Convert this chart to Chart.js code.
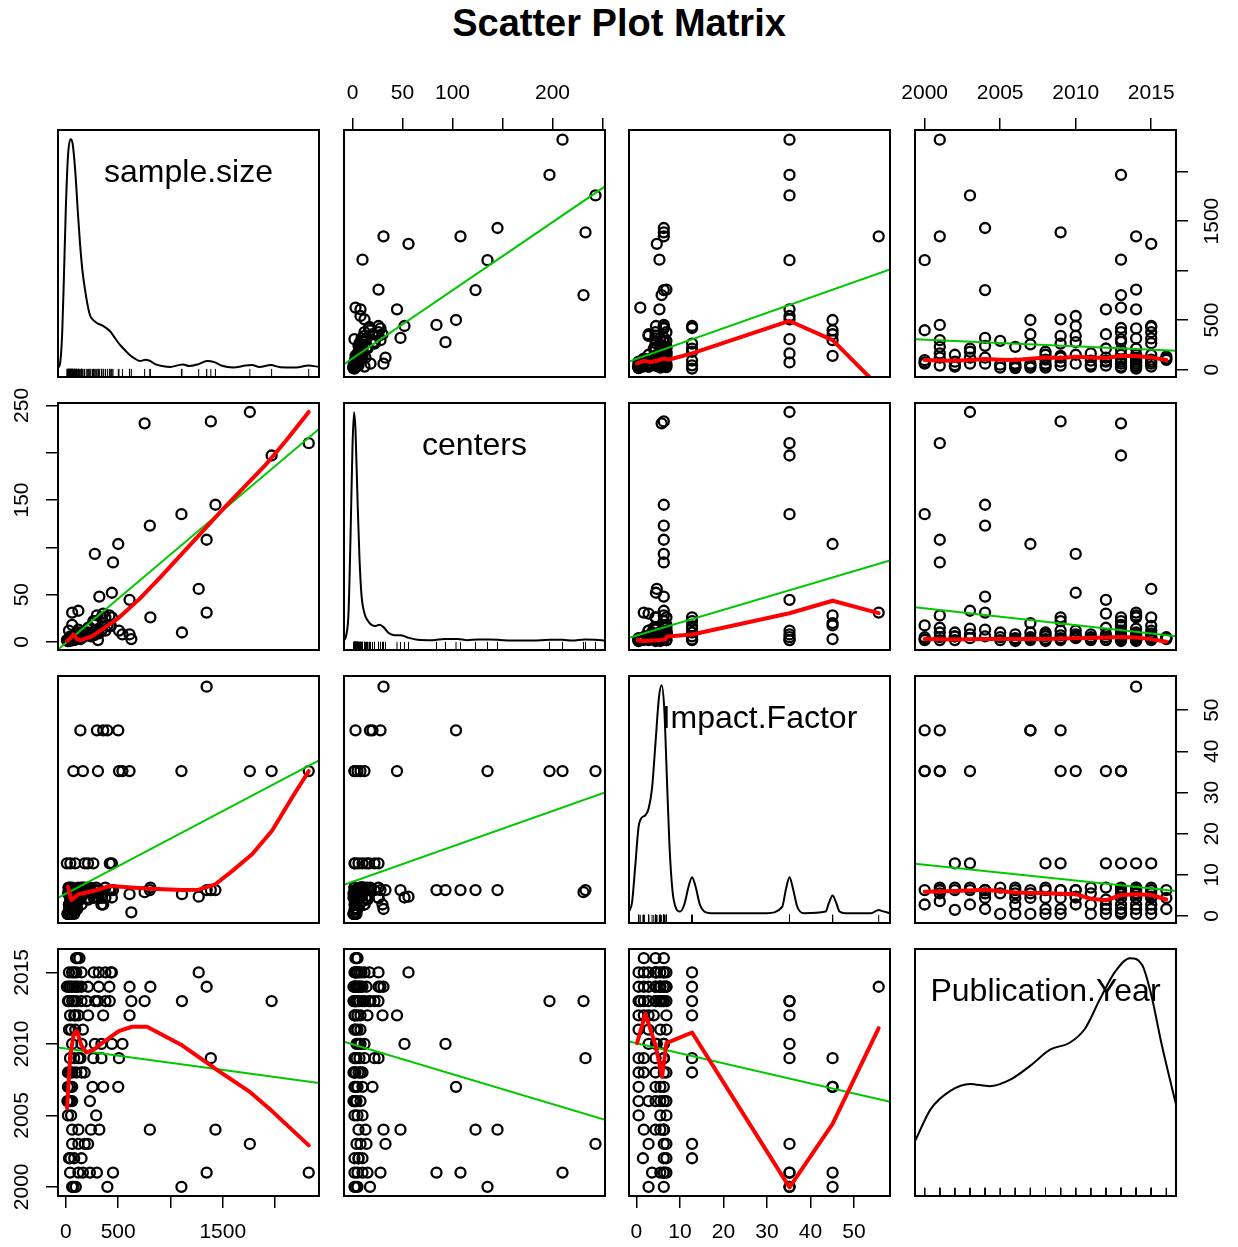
<!DOCTYPE html>
<html>
<head>
<meta charset="utf-8">
<title>Scatter Plot Matrix</title>
<script src="https://cdn.jsdelivr.net/npm/chart.js@4.4.1/dist/chart.umd.min.js"></script>
<style>
  html, body { margin: 0; padding: 0; background: #fff; }
  body { position: relative; width: 1238px; height: 1247px; overflow: hidden;
         font-family: "Liberation Sans", Arial, Helvetica, sans-serif; }
  #title { position: absolute; left: 0; top: 0; width: 1238px; text-align: center;
           font-size: 38px; font-weight: bold; line-height: 46px; }
  canvas { position: absolute; }
  .varname { position: absolute; width: 300px; text-align: center; font-size: 32px;
             line-height: 36px; z-index: 5; white-space: nowrap; }
</style>
</head>
<body>
<div id="title">Scatter Plot Matrix</div>
<script>
// variables of the matrix, one value per study (grouped by publication year)
const VAR_NAMES = ['sample.size', 'centers', 'Impact.Factor', 'Publication.Year'];

const sampleSize = [
    1105, 397, 72, 95, 60,                                            // 2000
    2322, 1346, 451, 297, 163, 40, 120, 230,                          // 2001
    43, 30, 80, 150,                                                  // 2002
    1759, 212, 120, 60, 180,                                          // 2003
    1430, 803, 320, 60, 120, 240,                                     // 2004
    20, 50, 290,                                                      // 2005
    15, 30, 45, 60, 230, 25,                                          // 2006
    501, 357, 20, 60, 255, 40,                                        // 2007
    180, 20, 60, 100, 150, 40,                                        // 2008
    1386, 508, 139, 263, 340, 40, 80, 120,                            // 2009
    541, 440, 277, 340, 60, 150,                                      // 2010
    30, 90, 163, 50,                                                  // 2011
    609, 90, 357, 213, 40, 80, 120,                                   // 2012
    1967, 1110, 753, 626, 307, 420, 378, 280, 60, 30, 100, 150, 200, 20, 80, // 2013
    1346, 808, 609, 10, 416, 315, 212, 60, 100, 150, 30, 80, 40, 120, // 2014
    1270, 440, 430, 378, 315, 267, 60, 100, 30, 150, 80,              // 2015
    98, 130, 110                                                      // 2016
];

const centers = [
    135, 17.5, 2, 5, 3,
    210, 108, 84, 28, 5, 2, 10, 15,
    6, 2, 6, 10,
    243, 14, 33, 4, 8,
    145, 123, 48, 31, 13, 6,
    2, 5, 10,
    1, 2, 3, 4, 8, 2,
    103.5, 20, 2, 5, 10, 3,
    10, 1, 3, 6, 8, 2,
    233, 12, 3, 22, 26, 2, 4, 7,
    8, 52, 93, 12, 4, 6,
    2, 5, 8, 3,
    44.5, 2.5, 30, 15, 2, 5, 8,
    197, 10, 231, 3, 2, 16.5, 26, 22, 18, 12, 3, 5, 7, 1, 4,
    31, 26, 8, 2, 28, 14, 10, 3, 5, 7, 2, 4, 1, 6,
    56, 26, 17, 12, 9, 7, 3, 4, 2, 5, 3,
    3, 5, 4
];

const impactFactor = [
    35.2, 45.1, 35.2, 6.3, 2.8,
    35.2, 6.3, 6.3, 45.1, 35.2, 5.5, 3.6, 6.9,
    12.8, 1.5, 6.3, 6.9,
    35.2, 12.8, 6.3, 2.8, 6.9,
    6.3, 6.3, 6.3, 1.7, 4.4, 5.5,
    0.5, 5.5, 6.9,
    0.5, 2.8, 4.4, 5.5, 6.3, 6.9,
    45.1, 45.1, 0.5, 4.4, 5.5, 6.3,
    12.8, 0.5, 1.7, 4.4, 6.3, 6.9,
    6.3, 35.2, 45.1, 12.8, 4.4, 0.5, 1.7, 6.3,
    35.2, 4.5, 6.3, 2.8, 6.3, 4.7,
    0.5, 5.5, 6.9, 2.8,
    35.2, 12.8, 2.8, 4.0, 0.5, 1.7, 6.9,
    35.2, 5.3, 5.8, 0.9, 35.2, 12.8, 4.4, 6.3, 6.9, 2.8, 1.7, 6.3, 4.4, 5.5, 0.5,
    55.7, 6.9, 5.3, 12.8, 6.3, 4.4, 6.9, 0.5, 1.7, 2.8, 5.5, 6.3, 4.4, 5.5,
    4.7, 12.8, 6.3, 6.9, 5.5, 4.4, 1.7, 2.8, 0.5, 6.3, 4.4,
    6.3, 4.4, 1.7
];

const pubYear = [
    2000, 2000, 2000, 2000, 2000,
    2001, 2001, 2001, 2001, 2001, 2001, 2001, 2001,
    2002, 2002, 2002, 2002,
    2003, 2003, 2003, 2003, 2003,
    2004, 2004, 2004, 2004, 2004, 2004,
    2005, 2005, 2005,
    2006, 2006, 2006, 2006, 2006, 2006,
    2007, 2007, 2007, 2007, 2007, 2007,
    2008, 2008, 2008, 2008, 2008, 2008,
    2009, 2009, 2009, 2009, 2009, 2009, 2009, 2009,
    2010, 2010, 2010, 2010, 2010, 2010,
    2011, 2011, 2011, 2011,
    2012, 2012, 2012, 2012, 2012, 2012, 2012,
    2013, 2013, 2013, 2013, 2013, 2013, 2013, 2013, 2013, 2013, 2013, 2013, 2013, 2013, 2013,
    2014, 2014, 2014, 2014, 2014, 2014, 2014, 2014, 2014, 2014, 2014, 2014, 2014, 2014,
    2015, 2015, 2015, 2015, 2015, 2015, 2015, 2015, 2015, 2015, 2015,
    2016, 2016, 2016
];

// kernel density curves on the diagonal, [value, density scaled to peak 1]
const densitySampleSize = [
    [-75, 0], [-55, 0.02], [-35, 0.15], [-17, 0.42], [0, 0.7], [21, 0.93], [45, 1.0], [65, 0.98],
    [90, 0.86], [115, 0.68], [136, 0.54], [160, 0.42], [184, 0.34], [210, 0.27], [231, 0.23],
    [260, 0.21], [300, 0.195], [350, 0.185], [423, 0.16], [470, 0.13], [518, 0.1], [570, 0.075],
    [614, 0.055], [660, 0.04], [710, 0.03], [760, 0.035], [805, 0.03], [860, 0.015], [920, 0.008],
    [1000, 0.004], [1080, 0.012], [1120, 0.015], [1180, 0.008], [1260, 0.015], [1350, 0.03],
    [1420, 0.025], [1500, 0.008], [1600, 0.002], [1720, 0.01], [1780, 0.012], [1850, 0.004],
    [1960, 0.012], [2050, 0.003], [2200, 0.002], [2320, 0.01], [2420, 0.004]
];
const densityCenters = [
    [-8.5, 0], [-6, 0.03], [-4, 0.12], [-2, 0.45], [0, 0.85], [1.5, 1.0], [3, 0.92], [5, 0.62],
    [7, 0.36], [9, 0.2], [12, 0.12], [15, 0.09], [19, 0.07], [23, 0.065], [27, 0.07], [31, 0.06],
    [36, 0.035], [42, 0.025], [48, 0.025], [55, 0.015], [65, 0.005], [80, 0.003], [92, 0.008],
    [105, 0.008], [115, 0.003], [125, 0.006], [137, 0.006], [145, 0.005], [160, 0.001], [180, 0.001],
    [197, 0.005], [210, 0.005], [220, 0.001], [232, 0.006], [243, 0.005], [252.5, 0.001]
];
const densityImpactFactor = [
    [-1.7, 0.01], [-1, 0.05], [-0.3, 0.2], [0.5, 0.38], [1.2, 0.42], [2, 0.43], [2.8, 0.46],
    [3.6, 0.55], [4.4, 0.75], [5.2, 0.95], [5.8, 1.0], [6.4, 0.9], [7, 0.6], [7.6, 0.3], [8.3, 0.1],
    [9, 0.03], [10, 0.01], [11, 0.04], [12, 0.12], [12.8, 0.16], [13.6, 0.12], [14.6, 0.04],
    [15.6, 0.01], [17, 0.003], [30, 0.003], [33.5, 0.03], [34.4, 0.11], [35.2, 0.16], [36, 0.11],
    [37, 0.03], [38.5, 0.003], [43.5, 0.01], [44.3, 0.05], [45.1, 0.08], [45.9, 0.05], [46.7, 0.01],
    [48, 0.003], [54, 0.003], [55, 0.012], [55.7, 0.017], [56.5, 0.012], [58.3, 0.003]
];
const densityPubYear = [
    [1999.36, 0.2], [2000.4, 0.34], [2001.7, 0.42], [2003.0, 0.45], [2004.3, 0.44], [2005.7, 0.47],
    [2007.0, 0.53], [2008.3, 0.6], [2009.6, 0.63], [2010.6, 0.69], [2011.6, 0.82], [2012.6, 0.94],
    [2013.6, 1.0], [2014.4, 0.97], [2015.0, 0.84], [2015.7, 0.62], [2016.64, 0.36]
];

// least squares lines (green), [x, y] at both panel edges
const fitSizeByCenters = [[-8.5, 55], [252.5, 1850]];
const fitSizeByIF = [[-1.7, 82], [58.3, 1011]];
const fitSizeByYear = [[1999.36, 307], [2016.64, 189]];
const fitCentersBySize = [[-75, -8], [2420, 225]];
const fitCentersByIF = [[-1.7, 4.5], [58.3, 86]];
const fitCentersByYear = [[1999.36, 36.8], [2016.64, 6]];
const fitIFBySize = [[-75, 4.4], [2420, 37.8]];
const fitIFByCenters = [[-8.5, 7.6], [252.5, 30]];
const fitIFByYear = [[1999.36, 12.7], [2016.64, 6.1]];
const fitYearBySize = [[-75, 2009.75], [2420, 2007.27]];
const fitYearByCenters = [[-8.5, 2010.15], [252.5, 2004.7]];
const fitYearByIF = [[-1.7, 2010.17], [58.3, 2005.95]];

// smoothers (red), [x, y]
const smoothSizeByIF = [[0.15, 62], [1.68, 89], [3.2, 75], [4.7, 89], [6.3, 112], [7.4, 99],
    [12.8, 163], [35.2, 491], [45.1, 297], [55.7, -169]];
const smoothSizeByYear = [[2000, 96], [2001, 92], [2002, 90], [2003, 96], [2004, 106], [2005, 100],
    [2006, 96], [2007, 110], [2008, 123], [2009, 116], [2010, 130], [2011, 123], [2012, 116],
    [2013, 140], [2014, 136], [2015, 123], [2016, 96]];
const smoothCentersBySize = [[11, 1], [43, 4], [75, 8], [107, 3], [139, 2], [250, 6], [330, 12],
    [500, 25], [700, 45], [900, 68], [1100, 92], [1300, 116], [1500, 140], [1700, 163],
    [1900, 186], [2100, 212], [2322, 243]];
const smoothCentersByIF = [[0.3, 1.7], [1.7, 1.0], [4.7, 1.7], [6.6, 2.5], [7.0, 5.8], [12.8, 7.9],
    [35.2, 30.3], [45.1, 43.5], [55.7, 30.5]];
const smoothCentersByYear = [[2000, 3.2], [2002, 2.5], [2004, 3.2], [2006, 3.2], [2008, 3.2],
    [2010, 3.9], [2012, 4.6], [2013, 5.3], [2014, 4.8], [2015, 3], [2016, 0.2]];
const smoothIFBySize = [[21, 7.05], [53, 3.9], [123, 5.3], [282, 6.2], [426, 7.3], [760, 6.7],
    [1111, 6.3], [1270, 6.4], [1430, 7.7], [1589, 10.9], [1780, 15], [1971, 20.7], [2163, 28.8],
    [2322, 35.2]];
const smoothIFByYear = [[2000, 5.9], [2002, 6.1], [2004, 6.4], [2006, 5.7], [2008, 5.5], [2010, 5.3],
    [2011, 4.2], [2012, 3.8], [2013, 5.1], [2014, 5.3], [2015, 5.1], [2016, 4.0]];
const smoothYearBySize = [[11, 2005.5], [43, 2009.2], [75, 2010.7], [107, 2010.9], [148, 2009.9],
    [196, 2009.4], [266, 2009.6], [346, 2010.05], [506, 2010.9], [633, 2011.2], [776, 2011.2],
    [1111, 2009.9], [1462, 2008.1], [1748, 2006.7], [1971, 2005.3], [2322, 2002.9]];
const smoothYearByIF = [[0.15, 2010.05], [2.07, 2012.1], [4.4, 2009.9], [5.9, 2007.7], [6.9, 2010.05],
    [12.8, 2010.8], [35.2, 1999.96], [45.1, 2004.4], [55.7, 2011.1]];

// axis ticks and which of them R printed
const AXIS_TICKS = [[0, 500, 1000, 1500, 2000], [0, 50, 100, 150, 200, 250], [0, 10, 20, 30, 40, 50], [2000, 2005, 2010, 2015]];
const X_LABELS = [[0, 500, 1500], [0, 50, 100, 200], [0, 10, 20, 30, 40, 50], [2000, 2005, 2010, 2015]];
const Y_LABELS = [[0, 500, 1500], [0, 50, 150, 250], [0, 10, 20, 30, 40, 50], [2000, 2005, 2010, 2015]];

// ---- layout -------------------------------------------------------------
const AXIS_LIMITS = [[-75, 2420], [-8.5, 252.5], [-1.7, 58.3], [1999.36, 2016.64]];
const COL_LEFT = [58, 344, 629, 915];
const ROW_TOP = [130, 403, 676, 949];
const PANEL_W = 261;
const PANEL_H = 247;
const M = 64;           // room around each panel for axes
const TICK_LEN = 12;
const TICK_FONT = 21;
const LABEL_DIST = 36;  // panel edge to label centre

const VAR_DATA = [sampleSize, centers, impactFactor, pubYear];
const DENSITIES = [densitySampleSize, densityCenters, densityImpactFactor, densityPubYear];
const FIT_LINES = {
    '0-1': fitSizeByCenters, '0-2': fitSizeByIF, '0-3': fitSizeByYear,
    '1-0': fitCentersBySize, '1-2': fitCentersByIF, '1-3': fitCentersByYear,
    '2-0': fitIFBySize, '2-1': fitIFByCenters, '2-3': fitIFByYear,
    '3-0': fitYearBySize, '3-1': fitYearByCenters, '3-2': fitYearByIF
};
const SMOOTH_LINES = {
    '0-2': smoothSizeByIF, '0-3': smoothSizeByYear,
    '1-0': smoothCentersBySize, '1-2': smoothCentersByIF, '1-3': smoothCentersByYear,
    '2-0': smoothIFBySize, '2-3': smoothIFByYear,
    '3-0': smoothYearBySize, '3-2': smoothYearByIF
};

Chart.defaults.font.family = '"Liberation Sans", Arial, Helvetica, sans-serif';
Chart.defaults.color = '#000';

const measureCtx = document.createElement('canvas').getContext('2d');
measureCtx.font = `${TICK_FONT}px "Liberation Sans", Arial, sans-serif`;
const widestLabel = labels => Math.max(...labels.map(l => measureCtx.measureText(String(l)).width));

const panelBox = {
    id: 'panelBox',
    afterDatasetsDraw(chart) {
        const { ctx, chartArea: a } = chart;
        ctx.save();
        ctx.strokeStyle = '#000';
        ctx.lineWidth = 2;
        ctx.strokeRect(a.left, a.top, a.right - a.left, a.bottom - a.top);
        ctx.restore();
    }
};

function axisOptions(varIdx, axis, position, show, labels) {
    const opts = {
        type: 'linear',
        position,
        display: show,
        min: AXIS_LIMITS[varIdx][0],
        max: AXIS_LIMITS[varIdx][1]
    };
    if (!show) return opts;
    const vertical = axis === 'y';
    return {
        ...opts,
        afterBuildTicks: scale => { scale.ticks = AXIS_TICKS[varIdx].map(value => ({ value })); },
        afterFit: scale => { if (vertical) scale.width = M; else scale.height = M; },
        border: { display: false },
        grid: { display: true, drawOnChartArea: false, drawTicks: true, tickLength: TICK_LEN, color: '#000', lineWidth: 1.5 },
        ticks: {
            autoSkip: false,
            color: '#000',
            font: { size: TICK_FONT },
            minRotation: vertical ? 90 : 0,
            maxRotation: vertical ? 90 : 0,
            crossAlign: vertical ? 'center' : 'near',
            padding: vertical ? LABEL_DIST - TICK_LEN - widestLabel(labels) / 2 : 12,
            callback: value => labels.includes(value) ? String(value) : ''
        }
    };
}

function buildPanel(row, col) {
    const canvas = document.createElement('canvas');
    canvas.width = PANEL_W + 2 * M;
    canvas.height = PANEL_H + 2 * M;
    canvas.style.left = (COL_LEFT[col] - M) + 'px';
    canvas.style.top = (ROW_TOP[row] - M) + 'px';
    document.body.appendChild(canvas);

    const xTop = row === 0 && col % 2 === 1;
    const xBottom = row === 3 && col % 2 === 0;
    const yLeft = col === 0 && row % 2 === 1;
    const yRight = col === 3 && row % 2 === 0;
    const diag = row === col;
    const datasets = [];

    if (diag) {
        datasets.push({
            data: DENSITIES[col].map(([x, y]) => ({ x, y })),
            showLine: true, pointRadius: 0, borderColor: '#000', borderWidth: 2,
            cubicInterpolationMode: 'monotone', order: 1
        });
        datasets.push({
            data: VAR_DATA[col].map(x => ({ x, y: -0.022 })),
            pointStyle: 'line', pointRotation: 90, pointRadius: 4,
            pointBorderWidth: 1, pointBorderColor: '#000', order: 2
        });
    } else {
        const key = `${row}-${col}`;
        if (SMOOTH_LINES[key]) {
            datasets.push({
                data: SMOOTH_LINES[key].map(([x, y]) => ({ x, y })),
                showLine: true, pointRadius: 0, borderColor: '#ff0000', borderWidth: 4,
                borderJoinStyle: 'round', borderCapStyle: 'round', order: 1
            });
        }
        datasets.push({
            data: FIT_LINES[key].map(([x, y]) => ({ x, y })),
            showLine: true, pointRadius: 0, borderColor: '#00c800', borderWidth: 2, order: 2
        });
        datasets.push({
            data: VAR_DATA[col].map((x, k) => ({ x, y: VAR_DATA[row][k] })),
            pointRadius: 5, pointBorderWidth: 2.3, pointBorderColor: '#000',
            pointBackgroundColor: 'rgba(0,0,0,0)', order: 3
        });
    }

    const yScale = diag
        ? { type: 'linear', display: false, min: -0.04, max: 1.04 }
        : axisOptions(row, 'y', yRight ? 'right' : 'left', yLeft || yRight, Y_LABELS[row]);

    new Chart(canvas, {
        type: 'scatter',
        data: { datasets },
        options: {
            responsive: false,
            animation: false,
            events: [],
            layout: {
                padding: {
                    left: yLeft ? 0 : M, right: yRight ? 0 : M,
                    top: xTop ? 0 : M, bottom: xBottom ? 0 : M
                }
            },
            plugins: { legend: { display: false }, tooltip: { enabled: false } },
            scales: {
                x: axisOptions(col, 'x', xTop ? 'top' : 'bottom', xTop || xBottom, X_LABELS[col]),
                y: yScale
            }
        },
        plugins: [panelBox]
    });

    if (diag) {
        const label = document.createElement('div');
        label.className = 'varname';
        label.textContent = VAR_NAMES[col];
        label.style.left = (COL_LEFT[col] + PANEL_W / 2 - 150) + 'px';
        label.style.top = (ROW_TOP[row] + 41 - 18) + 'px';
        document.body.appendChild(label);
    }
}

for (let row = 0; row < 4; row++) {
    for (let col = 0; col < 4; col++) buildPanel(row, col);
}
</script>
</body>
</html>
